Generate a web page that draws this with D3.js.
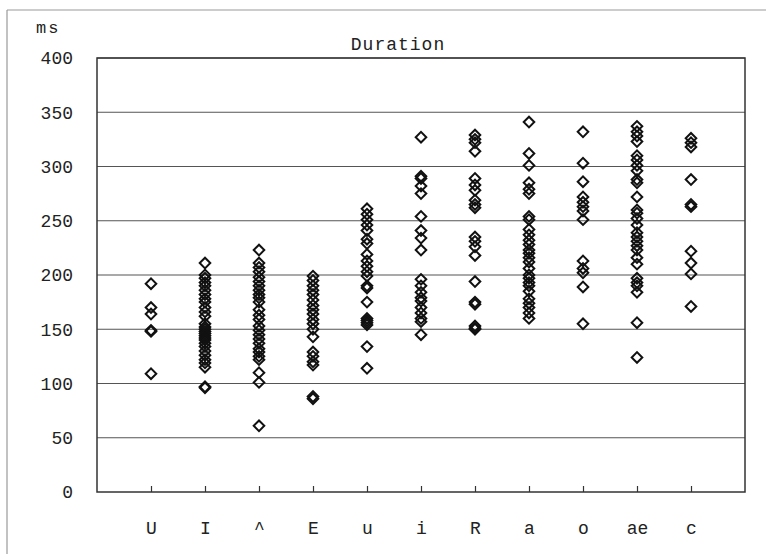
<!DOCTYPE html>
<html>
<head>
<meta charset="utf-8">
<script src="https://cdn.jsdelivr.net/npm/d3@7"></script>
<style>
  html, body { margin: 0; padding: 0; background: #fff; }
  svg { display: block; }
  text { font-family: "Liberation Mono", "DejaVu Sans Mono", monospace; fill: #222; }
</style>
</head>
<body>
<svg id="chart" width="766" height="554"></svg>
<script>
// Vowel categories along the x axis
const categories = ["U", "I", "^", "E", "u", "i", "R", "a", "o", "ae", "c"];

// Duration measurements (ms) per vowel
const durU  = [192, 170, 164, 149, 148, 109];
const durI  = [211, 200, 197, 193, 190, 186, 182, 178, 175, 170, 166, 162, 155, 152, 150, 148, 146, 144, 142, 140, 137, 134, 130, 126, 122, 119, 115, 97, 96];
const durV  = [223, 211, 207, 203, 198, 194, 190, 186, 182, 179, 175, 168, 163, 159, 153, 149, 145, 141, 137, 132, 129, 125, 122, 110, 101, 61];
const durE  = [199, 195, 190, 186, 182, 177, 172, 168, 164, 159, 155, 150, 143, 129, 125, 120, 117, 88, 86];
const durUu = [261, 256, 251, 246, 241, 233, 229, 219, 213, 208, 203, 199, 190, 188, 175, 160, 158, 156, 154, 134, 114];
const durIi = [327, 291, 289, 282, 275, 254, 241, 234, 223, 196, 190, 184, 179, 176, 170, 165, 160, 157, 145];
const durR  = [329, 325, 322, 314, 289, 283, 278, 269, 265, 262, 235, 231, 226, 218, 194, 175, 173, 153, 151, 150];
const durA  = [341, 312, 301, 285, 279, 275, 254, 251, 242, 237, 232, 228, 223, 220, 216, 212, 206, 200, 197, 193, 190, 185, 178, 174, 170, 165, 160];
const durO  = [332, 303, 286, 272, 267, 263, 259, 251, 213, 206, 202, 189, 155];
const durAe = [337, 332, 328, 323, 310, 306, 301, 296, 288, 285, 272, 260, 257, 252, 246, 239, 235, 231, 227, 223, 216, 210, 197, 193, 190, 184, 156, 124];
const durC  = [326, 322, 318, 288, 265, 263, 222, 211, 201, 171];

const seriesByCategory = [durU, durI, durV, durE, durUu, durIi, durR, durA, durO, durAe, durC];

// Y axis ticks (ms)
const yTicks = [0, 50, 100, 150, 200, 250, 300, 350, 400];

const svg = d3.select("#chart");

// Outer frame of the figure
svg.append("line").attr("x1", 7).attr("x2", 766).attr("y1", 10).attr("y2", 10)
  .attr("stroke", "#999").attr("stroke-width", 1.2);
svg.append("line").attr("x1", 7).attr("x2", 7).attr("y1", 10).attr("y2", 554)
  .attr("stroke", "#999").attr("stroke-width", 1.2);

const plot = { left: 97, right: 745, top: 58, bottom: 492 };

const x = d3.scalePoint().domain(categories).range([plot.left, plot.right]).padding(1);
const y = d3.scaleLinear().domain([0, 400]).range([plot.bottom, plot.top]);

// Horizontal gridlines
svg.append("g").selectAll("line").data(yTicks.filter(v => v > 0)).join("line")
  .attr("x1", plot.left).attr("x2", plot.right)
  .attr("y1", d => y(d)).attr("y2", d => y(d))
  .attr("stroke", d => d === 400 ? "#666" : "#555")
  .attr("stroke-width", 1.2);

// Y axis labels
const yAxis = d3.axisLeft(y).tickValues(yTicks).tickSize(0).tickPadding(24);
svg.append("g").attr("transform", `translate(${plot.left},0)`).call(yAxis)
  .call(g => g.select(".domain").remove())
  .call(g => g.selectAll("text").attr("font-size", 18)
    .attr("font-family", "'Liberation Mono', monospace").attr("fill", "#222"));

// X axis: inward ticks at each category, labels below
const xAxis = d3.axisBottom(x).tickSizeInner(-6).tickSizeOuter(0).tickPadding(29);
svg.append("g").attr("transform", `translate(0,${plot.bottom})`).call(xAxis)
  .call(g => g.select(".domain").remove())
  .call(g => g.selectAll(".tick line").attr("stroke", "#333").attr("stroke-width", 1.2))
  .call(g => g.selectAll("text").attr("font-size", 18)
    .attr("font-family", "'Liberation Mono', monospace").attr("fill", "#222"));

// Plot frame
svg.append("rect")
  .attr("x", plot.left).attr("y", plot.top)
  .attr("width", plot.right - plot.left).attr("height", plot.bottom - plot.top)
  .attr("fill", "none").attr("stroke", "#333").attr("stroke-width", 1.5);

// Diamond markers
const diamond = d3.symbol().type(d3.symbolSquare).size(56)();
const points = [];
seriesByCategory.forEach((vals, i) => vals.forEach(v => points.push({ cat: categories[i], v })));

svg.append("g").selectAll("path").data(points).join("path")
  .attr("d", diamond)
  .attr("transform", d => `translate(${x(d.cat)},${y(d.v)}) rotate(45)`)
  .attr("fill", "none")
  .attr("stroke", "#111")
  .attr("stroke-width", 2);

// Titles
svg.append("text").attr("x", 398).attr("y", 50).attr("text-anchor", "middle")
  .attr("font-size", 18).attr("letter-spacing", "1px").text("Duration");
svg.append("text").attr("x", 36).attr("y", 33).attr("font-size", 17)
  .attr("letter-spacing", "2px").text("ms");
</script>
</body>
</html>
